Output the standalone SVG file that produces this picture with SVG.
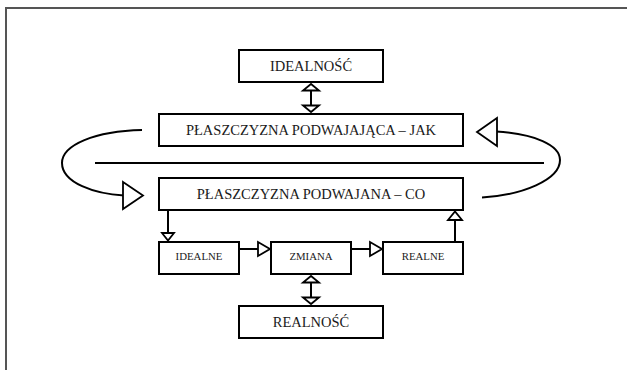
<svg xmlns="http://www.w3.org/2000/svg" width="627" height="370" viewBox="0 0 627 370">
<style>
.box{fill:#fff;stroke:#000;stroke-width:2}
.big{font-family:"Liberation Serif","Times New Roman",serif;font-size:14.5px;fill:#1a1a1a;text-anchor:middle}
.small{font-family:"Liberation Serif","Times New Roman",serif;font-size:10.8px;fill:#1a1a1a;text-anchor:middle}
.ln{fill:none;stroke:#000;stroke-width:2}
.head{fill:#fff;stroke:#000;stroke-width:1.8;stroke-linejoin:miter}
</style>
<rect width="627" height="370" fill="#fff"/>
<path d="M6,370 V8 H627" fill="none" stroke="#555" stroke-width="2"/>
<g id="connectors">
<line class="ln" x1="95" y1="163" x2="544" y2="163"/>
<path class="ln" d="M142,130 C95,131 62,145 62,163 C62,183 95,194 124,195.5"/>
<polygon class="head" points="123,182 143,195.5 123,209"/>
<path class="ln" d="M496,131.5 C535,134 560,145 560,160 C560,180 522,195 482,197.5"/>
<polygon class="head" points="477,132 497,118 497,146"/>
<line class="ln" x1="311" y1="90" x2="311" y2="106"/>
<polygon class="head" points="311,84 303,90.5 319,90.5"/>
<polygon class="head" points="311,112 303,105.5 319,105.5"/>
<line class="ln" x1="311" y1="282" x2="311" y2="298"/>
<polygon class="head" points="311,276 303,282.5 319,282.5"/>
<polygon class="head" points="311,304 303,297.5 319,297.5"/>
<line class="ln" x1="168" y1="210" x2="168" y2="233"/>
<polygon class="head" points="162,233 174,233 168,240.5"/>
<line class="ln" x1="455" y1="242" x2="455" y2="220"/>
<polygon class="head" points="448,220 462,220 455,211.5"/>
<line class="ln" x1="239" y1="249" x2="258" y2="249"/>
<polygon class="head" points="258,242 258,256 270,249"/>
<line class="ln" x1="351" y1="249" x2="370" y2="249"/>
<polygon class="head" points="370,242 370,256 382,249"/>
</g>
<g id="idealnosc">
<rect class="box" x="239" y="50" width="144" height="32"/>
<text class="big" x="311" y="71">IDEALNOŚĆ</text>
</g>
<g id="plaszczyzna-podwajajaca">
<rect class="box" x="159" y="114" width="304" height="32"/>
<text class="big" x="311" y="135">PŁASZCZYZNA PODWAJAJĄCA – JAK</text>
</g>
<g id="plaszczyzna-podwajana">
<rect class="box" x="159" y="178" width="304" height="32"/>
<text class="big" x="311" y="199">PŁASZCZYZNA PODWAJANA – CO</text>
</g>
<g id="idealne">
<rect class="box" x="159" y="242" width="80" height="32"/>
<text class="small" x="199" y="259.5">IDEALNE</text>
</g>
<g id="zmiana">
<rect class="box" x="271" y="242" width="80" height="32"/>
<text class="small" x="311" y="259.5">ZMIANA</text>
</g>
<g id="realne">
<rect class="box" x="383" y="242" width="80" height="32"/>
<text class="small" x="423" y="259.5">REALNE</text>
</g>
<g id="realnosc">
<rect class="box" x="239" y="306" width="144" height="32"/>
<text class="big" x="311" y="327">REALNOŚĆ</text>
</g>
</svg>
